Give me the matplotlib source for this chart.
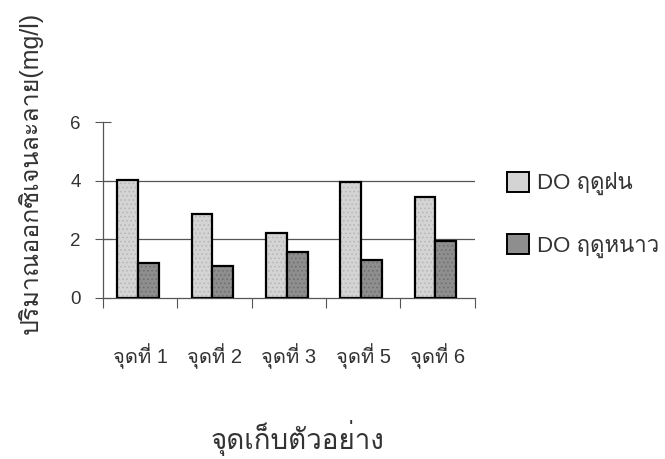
import matplotlib
matplotlib.use("Agg")
import matplotlib.pyplot as plt
from matplotlib.patches import Patch
import numpy as np

plt.rcParams['font.family'] = ['Liberation Sans', 'Loma']
plt.rcParams['hatch.linewidth'] = 0.6

sites = ["จุดที่ 1", "จุดที่ 2", "จุดที่ 3", "จุดที่ 5", "จุดที่ 6"]
do_rainy = [4.02, 2.88, 2.22, 3.97, 3.45]
do_winter = [1.18, 1.08, 1.58, 1.30, 1.95]
series_names = ["DO ฤดูฝน", "DO ฤดูหนาว"]
y_ticks = [0, 2, 4, 6]
x_title = "จุดเก็บตัวอย่าง"
y_title = "ปริมาณออกซิเจนละลาย(mg/l)"

fig = plt.figure(figsize=(6.65, 4.59), dpi=100)
ax = fig.add_axes([0.155, 0.351, 0.559, 0.383])

x = np.arange(len(sites))
w = 0.28
light = dict(facecolor="#d4d4d4", edgecolor="black", linewidth=1.6, hatch="....")
dark = dict(facecolor="#8e8e8e", edgecolor="black", linewidth=1.6, hatch="....")

b1 = ax.bar(x - w / 2 - 0.03, do_rainy, w, zorder=3, **light)
b2 = ax.bar(x + w / 2 - 0.03, do_winter, w, zorder=3, **dark)
for b in b1:
    b._hatch_color = matplotlib.colors.to_rgba("#b5b5b5")
for b in b2:
    b._hatch_color = matplotlib.colors.to_rgba("#6e6e6e")

ax.set_xlim(-0.5, len(sites) - 0.5)
ax.set_ylim(0, 6)
for gy in (2, 4):
    ax.axhline(gy, color="#555555", linewidth=0.9, zorder=1)

ax.set_yticks(y_ticks)
ax.set_yticklabels([str(t) for t in y_ticks], fontsize=13.5, color="#333333")
ax.tick_params(axis="y", direction="inout", length=12, width=0.8, pad=10, color="#555555")

ax.set_xticks(np.arange(len(sites) + 1) - 0.5, minor=False)
ax.set_xticklabels([])
ax.tick_params(axis="x", direction="out", length=7, width=0.8, color="#555555")
ax.set_xticks(x, minor=True)
ax.set_xticklabels(sites, minor=True, fontsize=14.5, color="#333333")
ax.tick_params(axis="x", which="minor", length=0, pad=33)

for s in ("top", "right"):
    ax.spines[s].set_visible(False)
for s in ("left", "bottom"):
    ax.spines[s].set_color("#555555")
    ax.spines[s].set_linewidth(0.9)

fig.text(0.447, 0.045, x_title, ha="center", va="center", fontsize=20, color="#333333")
fig.text(0.045, 0.623, y_title, ha="center", va="center", rotation=90, fontsize=18,
         color="#333333")

handles = [
    Patch(facecolor="#d4d4d4", edgecolor="black", linewidth=1.4),
    Patch(facecolor="#8e8e8e", edgecolor="black", linewidth=1.4),
]
leg = fig.legend(handles, series_names, loc="center left", bbox_to_anchor=(0.762, 0.532),
                 frameon=False, fontsize=16, handlelength=1.0, handleheight=1.0,
                 handletextpad=0.35, labelspacing=1.75, borderaxespad=0, borderpad=0)
for t in leg.get_texts():
    t.set_color("#333333")

fig.savefig("out.png", dpi=100)
